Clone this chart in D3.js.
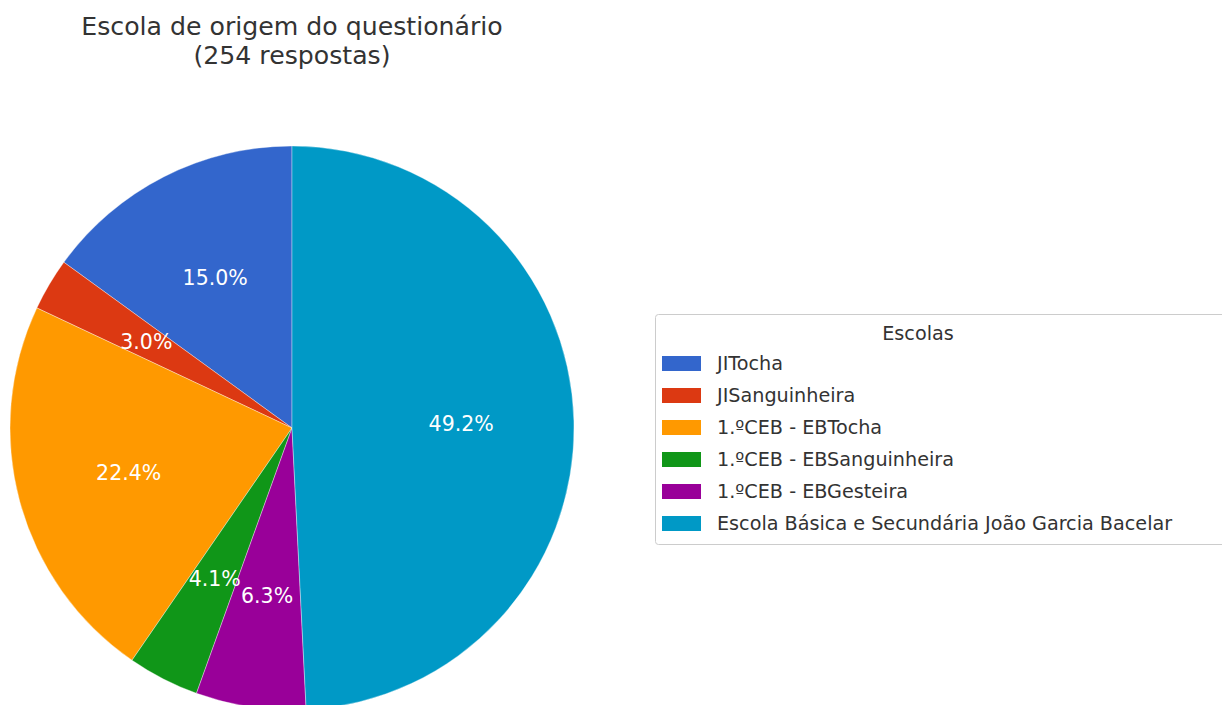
<!DOCTYPE html>
<html>
<head>
<meta charset="utf-8">
<script src="https://cdn.jsdelivr.net/npm/d3@7"></script>
<style>
  body { margin: 0; background: #fff; }
  svg { display: block; font-family: "DejaVu Sans", sans-serif; }
</style>
</head>
<body>
<svg width="1222" height="705"></svg>
<script>
// dados do gráfico
var escolas = ["JITocha", "JISanguinheira", "1.ºCEB - EBTocha", "1.ºCEB - EBSanguinheira", "1.ºCEB - EBGesteira", "Escola Básica e Secundária João Garcia Bacelar"];
var percentagens = [15.0, 3.0, 22.4, 4.1, 6.3, 49.2];
var cores = ["#3366cc", "#dc3912", "#ff9900", "#109618", "#990099", "#0099c6"];
var titulo = ["Escola de origem do questionário", "(254 respostas)"];
var tituloLegenda = "Escolas";

var svg = d3.select("svg");
var cx = 292, cy = 428, raio = 282;

var data = escolas.map(function(e, i) { return {nome: e, valor: percentagens[i]}; });

var color = d3.scaleOrdinal().domain(escolas).range(cores);

// pizza no sentido anti-horário a partir do topo
var pie = d3.pie()
    .sort(null)
    .value(function(d) { return d.valor; })
    .startAngle(0)
    .endAngle(-2 * Math.PI);

var arc = d3.arc().innerRadius(0).outerRadius(raio);
var arcLabel = d3.arc().innerRadius(raio * 0.6).outerRadius(raio * 0.6);

var g = svg.append("g").attr("transform", "translate(" + cx + "," + cy + ")");

g.selectAll("path")
    .data(pie(data))
    .enter()
    .append("path")
    .attr("d", arc)
    .attr("fill", function(d) { return color(d.data.nome); })
    .attr("stroke", "#ffffff")
    .attr("stroke-width", 0.6)
    .attr("stroke-opacity", 0.6);

g.selectAll("text.pct")
    .data(pie(data))
    .enter()
    .append("text")
    .attr("class", "pct")
    .attr("transform", function(d) { return "translate(" + arcLabel.centroid(d) + ")"; })
    .attr("text-anchor", "middle")
    .attr("dy", "0.36em")
    .attr("font-size", 20.5)
    .attr("fill", "#ffffff")
    .text(function(d) { return d.data.valor.toFixed(1) + "%"; });

// título
svg.append("text")
    .attr("x", cx)
    .attr("y", 35)
    .attr("text-anchor", "middle")
    .attr("font-size", 25.2)
    .attr("fill", "#333333")
    .selectAll("tspan")
    .data(titulo)
    .enter()
    .append("tspan")
    .attr("x", cx)
    .attr("dy", function(d, i) { return i === 0 ? 0 : 29; })
    .text(function(d) { return d; });

// legenda
var lx = 655, ly = 314, lw = 578, lh = 230;
var leg = svg.append("g");
leg.append("rect")
    .attr("x", lx + 0.5)
    .attr("y", ly + 0.5)
    .attr("width", lw)
    .attr("height", lh)
    .attr("rx", 3)
    .attr("fill", "#ffffff")
    .attr("stroke", "#cccccc")
    .attr("stroke-width", 1);

leg.append("text")
    .attr("x", 918)
    .attr("y", ly + 26)
    .attr("text-anchor", "middle")
    .attr("font-size", 19.2)
    .attr("fill", "#333333")
    .text(tituloLegenda);

var item = leg.selectAll("g.item")
    .data(escolas)
    .enter()
    .append("g")
    .attr("class", "item")
    .attr("transform", function(d, i) { return "translate(" + lx + "," + (ly + 49 + i * 32) + ")"; });

item.append("rect")
    .attr("x", 7)
    .attr("y", -7)
    .attr("width", 39)
    .attr("height", 15)
    .attr("fill", function(d) { return color(d); });

item.append("text")
    .attr("x", 62)
    .attr("dy", "0.36em")
    .attr("font-size", 19.2)
    .attr("fill", "#333333")
    .text(function(d) { return d; });
</script>
</body>
</html>
